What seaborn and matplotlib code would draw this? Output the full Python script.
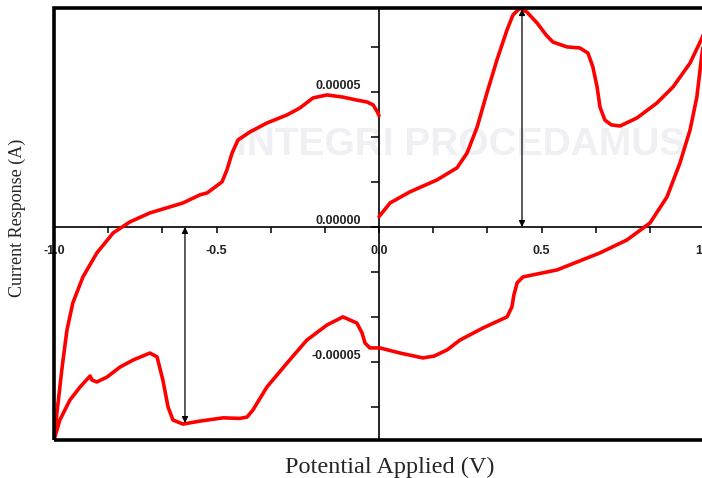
import numpy as np
import pandas as pd
import seaborn as sns
import matplotlib
matplotlib.use("Agg")
import matplotlib.pyplot as plt
from matplotlib.ticker import MultipleLocator, FixedLocator
from matplotlib.patches import Rectangle

# ---- data (potential in V, current in units of 1e-5 A) ----
fwd_v = [0.0, 0.034, 0.095, 0.178, 0.24, 0.271, 0.302, 0.332, 0.363, 0.394, 0.412, 0.434,
         0.455, 0.486, 0.515, 0.535, 0.578, 0.618, 0.643, 0.658, 0.671, 0.68, 0.695,
         0.715, 0.742, 0.794, 0.855, 0.905, 0.957, 0.994, 1.0]
fwd_i = [0.38, 0.89, 1.30, 1.74, 2.19, 2.74, 3.70, 4.96, 6.19, 7.30, 7.85, 8.11,
         7.96, 7.56, 7.10, 6.85, 6.67, 6.63, 6.44, 5.93, 5.19, 4.44, 3.96,
         3.78, 3.74, 4.04, 4.59, 5.19, 6.07, 7.0, 7.2]

rev_v = [0.999, 0.994, 0.978, 0.957, 0.926, 0.886, 0.834, 0.763, 0.68, 0.548, 0.443, 0.425,
         0.415, 0.409, 0.394, 0.32, 0.249, 0.21, 0.17, 0.135, 0.065, 0.003, -0.028,
         -0.043, -0.052, -0.068, -0.111, -0.16, -0.222, -0.283, -0.345, -0.388, -0.406,
         -0.428, -0.48, -0.551, -0.603, -0.634, -0.649, -0.665, -0.683, -0.705, -0.757,
         -0.797, -0.837, -0.868, -0.883, -0.889, -0.92, -0.951, -0.982, -1.0]
rev_i = [6.8, 6.44, 4.81, 3.59, 2.37, 1.11, 0.15, -0.48, -0.96, -1.59, -1.85, -2.07,
         -2.52, -2.96, -3.33, -3.74, -4.19, -4.55, -4.78, -4.85, -4.67, -4.48, -4.48,
         -4.30, -3.93, -3.56, -3.33, -3.63, -4.19, -5.04, -5.93, -6.78, -7.04,
         -7.09, -7.07, -7.19, -7.30, -7.15, -6.67, -5.67, -4.81, -4.67, -4.93,
         -5.19, -5.56, -5.74, -5.67, -5.52, -5.93, -6.41, -7.15, -7.89]

ret_v = [-1.0, -0.991, -0.975, -0.96, -0.942, -0.911, -0.868, -0.818, -0.766, -0.705,
         -0.603, -0.551, -0.529, -0.483, -0.468, -0.452, -0.434, -0.397, -0.345, -0.283,
         -0.243, -0.203, -0.16, -0.111, -0.068, -0.037, -0.018, -0.003, 0.0]
ret_i = [-7.89, -6.89, -5.19, -3.81, -2.81, -1.85, -0.96, -0.22, 0.19, 0.52,
         0.89, 1.19, 1.26, 1.67, 2.11, 2.74, 3.22, 3.52, 3.85, 4.15,
         4.41, 4.78, 4.89, 4.81, 4.70, 4.63, 4.52, 4.22, 4.12]

x_ticks = [-1.0, -0.5, 0.0, 0.5, 1.0]
x_ticklabels = ["-1.0", "-0.5", "0.0", "0.5", "1.0"]
y_ticks = [-5e-5, 0.0, 5e-5]
y_ticklabels = ["-0.00005", "0.00000", "0.00005"]

arrow_v = [-0.597, 0.44]
arrow_top = [0.0, 8.07]
arrow_bottom = [-7.26, 0.0]

scale = 1e-5
volt = fwd_v + rev_v + ret_v
curr = [c * scale for c in fwd_i + rev_i + ret_i]
df = pd.DataFrame({"V": volt, "I": curr})

sns.set_theme(style="white")
plt.rcParams["font.family"] = ["Liberation Sans", "DejaVu Sans"]

fig = plt.figure(figsize=(7.02, 4.78), dpi=100)
ax = fig.add_axes([54 / 702, 1 - 440 / 478, 650 / 702, 432 / 478])
ax.set_facecolor("white")

# faint watermark
ax.text(0.625, 0.683, "INTEGRI PROCEDAMUS", transform=ax.transAxes, fontsize=28,
        fontweight="bold", color="#efeff4", ha="center", va="center", zorder=0)

sns.lineplot(data=df, x="V", y="I", sort=False, estimator=None, color="#ff0000",
             linewidth=2.6, ax=ax, zorder=3, solid_joinstyle="round",
             solid_capstyle="round")

ax.set_xlim(-1.0, 1.0)
ax.set_ylim(-7.89e-5, 8.11e-5)

# spines: axes cross at origin, thick frame around
for s in ["top", "right"]:
    ax.spines[s].set_visible(False)
ax.spines["left"].set_position(("data", 0.0))
ax.spines["bottom"].set_position(("data", 0.0))
for s in ["left", "bottom"]:
    ax.spines[s].set_linewidth(1.2)
    ax.spines[s].set_color("black")
ax.add_patch(Rectangle((0, 0), 1, 1, transform=ax.transAxes, fill=False,
                       lw=2.6, edgecolor="black", clip_on=False, zorder=5))

ax.xaxis.set_major_locator(FixedLocator(x_ticks))
ax.xaxis.set_minor_locator(MultipleLocator(1 / 6))
ax.yaxis.set_major_locator(FixedLocator(y_ticks))
ax.yaxis.set_minor_locator(MultipleLocator(5e-5 / 3))
ax.set_xticklabels(x_ticklabels)
ax.set_yticklabels(y_ticklabels)
ax.tick_params(axis="x", which="both", direction="out", length=4, width=1.1,
               color="black", bottom=True, pad=9, labelsize=9)
ax.tick_params(axis="y", which="both", direction="out", length=6, width=1.1,
               color="black", left=True, pad=7, labelsize=9)
for lab in ax.get_xticklabels() + ax.get_yticklabels():
    lab.set_fontweight("bold")
    lab.set_color("#222222")
for lab in ax.get_yticklabels():
    lab.set_va("bottom")
    lab.set_ha("right")

ax.set_xlabel("Potential Applied (V)", fontsize=17.5, family="Liberation Serif")
ax.set_ylabel("Current Response (A)", fontsize=13, family="Liberation Serif")
ax.xaxis.set_label_coords(0.517, -0.0625)
ax.yaxis.set_label_coords(-0.056, 0.514)
ax.xaxis.label.set_va("center")
ax.yaxis.label.set_va("center")

for xv, yt, yb in zip(arrow_v, arrow_top, arrow_bottom):
    ax.annotate("", xy=(xv, yt * scale), xytext=(xv, yb * scale),
                arrowprops=dict(arrowstyle="<|-|>", lw=0.9, color="black",
                                mutation_scale=9, shrinkA=0, shrinkB=0), zorder=4)

fig.savefig("out.png", dpi=100)
